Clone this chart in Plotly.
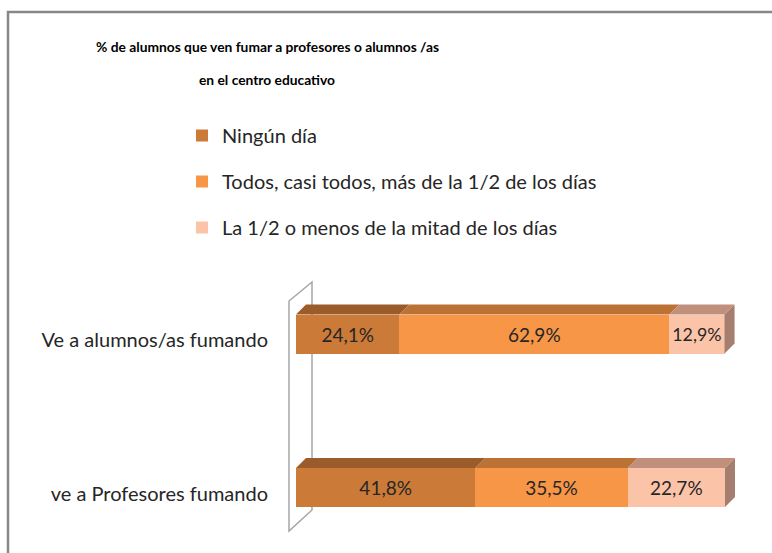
import plotly.graph_objects as go

# ---------------- data ----------------
categories = ["ve a Profesores fumando", "Ve a alumnos/as fumando"]
series_names = ["Ningún día",
                "Todos, casi todos, más de la 1/2 de los días",
                "La 1/2 o menos de la mitad de los días"]
ningun_dia = [41.8, 24.1]
todos_dias = [35.5, 62.9]
mitad_dias = [22.7, 12.9]
title_lines = ["% de alumnos que ven fumar a profesores o alumnos /as",
               "en el centro educativo"]

# ---------------- styles ----------------
FONT = "Lato, 'Open Sans', sans-serif"
front_colors = ["#CB7A38", "#F79646", "#FBC3A7"]
top_colors = ["#9B5B2B", "#BD7235", "#C0907D"]
side_color = "#A57E6F"

W, H = 772, 553
ML, MR, MT, MB = 287, 32, 273, 12
PW, PH = W - ML - MR, H - MT - MB
XPX = 4.29      # px per percent
YPX = 153.5     # px per category
X0 = 296        # pixel of x = 0
Y1 = 334        # pixel of category 1 centre
x_range = [-(X0 - ML) / XPX, (W - MR - X0) / XPX]
y_range = [1 - (H - MB - Y1) / YPX, 1 + (Y1 - MT) / YPX]
BAR_W = 39 / YPX
DX, DY = 10 / XPX, 10 / YPX   # 3-D depth in data units


def px(x):
    return (x - ML) / PW


def py(y):
    return (H - MB - y) / PH


yvals = list(range(len(categories)))
series = [ningun_dia, todos_dias, mitad_dias]

fig = go.Figure()
for name, vals, col in zip(series_names, series, front_colors):
    fig.add_trace(go.Bar(
        y=yvals, x=vals, name=name, orientation="h",
        marker=dict(color=col, line=dict(width=0)),
        width=BAR_W,
        texttemplate="%{x:.1f}%", textposition="inside",
        insidetextanchor="middle",
        textfont=dict(family=FONT, size=19, color="#262626"),
        legendgroup=name, hoverinfo="skip",
    ))

shapes = []
# chart border
shapes.append(dict(type="rect", xref="paper", yref="paper",
                   x0=px(8), x1=px(790), y0=py(12), y1=py(570),
                   line=dict(color="#878787", width=2.5), layer="below"))
# back wall
wall = (f"M {px(289)},{py(301)} L {px(312)},{py(282)} L {px(312)},{py(510)} "
        f"L {px(289)},{py(531)} Z")
shapes.append(dict(type="path", xref="paper", yref="paper", path=wall,
                   line=dict(color="#A6A6A6", width=1.5),
                   fillcolor="white", layer="below"))

# 3-D faces of each bar segment
for i, yc in enumerate(yvals):
    yt = yc + BAR_W / 2
    yb = yc - BAR_W / 2
    start = 0.0
    for s, vals in enumerate(series):
        end = start + vals[i]
        path = (f"M {start},{yt} L {end},{yt} L {end + DX},{yt + DY} "
                f"L {start + DX},{yt + DY} Z")
        shapes.append(dict(type="path", xref="x", yref="y", path=path,
                           fillcolor=top_colors[s], line=dict(width=0),
                           layer="above"))
        start = end
    side = (f"M {start},{yb} L {start},{yt} L {start + DX},{yt + DY} "
            f"L {start + DX},{yb + DY} Z")
    shapes.append(dict(type="path", xref="x", yref="y", path=side,
                       fillcolor=side_color, line=dict(width=0),
                       layer="above"))

annotations = [
    dict(text=f"<b>{title_lines[0]}</b>", xref="paper", yref="paper",
         x=px(267), y=py(47), showarrow=False, xanchor="center",
         yanchor="middle", font=dict(family=FONT, size=13.8, color="#000000")),
    dict(text=f"<b>{title_lines[1]}</b>", xref="paper", yref="paper",
         x=px(267), y=py(79), showarrow=False, xanchor="center",
         yanchor="middle", font=dict(family=FONT, size=13.8, color="#000000")),
]

fig.update_layout(
    width=W, height=H,
    margin=dict(l=ML, r=MR, t=MT, b=MB, autoexpand=False),
    paper_bgcolor="white", plot_bgcolor="white",
    barmode="stack", separators=",.",
    shapes=shapes, annotations=annotations,
    showlegend=True,
    legend=dict(x=px(182), y=py(116), xanchor="left", yanchor="top",
                traceorder="grouped", tracegroupgap=17,
                font=dict(family=FONT, size=20, color="#262626"),
                bgcolor="rgba(0,0,0,0)"),
    xaxis=dict(range=x_range, visible=False, fixedrange=True),
    yaxis=dict(range=y_range, tickvals=yvals, ticktext=categories,
               showgrid=False, zeroline=False, showline=False,
               ticks="outside", ticklen=14, tickcolor="rgba(0,0,0,0)",
               ticklabelshift=6,
               tickfont=dict(family=FONT, size=20, color="#262626"),
               fixedrange=True),
    font=dict(family=FONT),
)

fig.write_html("out.html",
               config={"displayModeBar": False},
               post_script="document.body.style.margin='0';")
